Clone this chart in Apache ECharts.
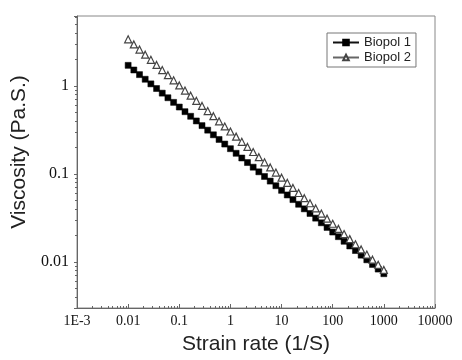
<!DOCTYPE html>
<html>
<head>
<meta charset="utf-8">
<script src="https://cdn.jsdelivr.net/npm/echarts@6/dist/echarts.min.js"></script>
<style>html,body{margin:0;padding:0;background:#fff}#c{width:462px;height:360px}</style>
</head>
<body>
<div id="c"></div>
<script>
const strainRate = [0.01,0.01292,0.01668,0.02154,0.02783,0.03594,0.04642,0.05995,0.07743,
  0.1,0.1292,0.1668,0.2154,0.2783,0.3594,0.4642,0.5995,0.7743,
  1,1.292,1.668,2.154,2.783,3.594,4.642,5.995,7.743,
  10,12.92,16.68,21.54,27.83,35.94,46.42,59.95,77.43,
  100,129.2,166.8,215.4,278.3,359.4,464.2,599.5,774.3,1000];
const biopol1 = [1.718,1.522,1.348,1.194,1.058,0.937,0.830,0.736,0.652,
  0.577,0.511,0.453,0.401,0.355,0.315,0.279,0.247,0.219,
  0.194,0.172,0.152,0.135,0.1195,0.1059,0.0938,0.0831,0.0736,
  0.0652,0.0578,0.0512,0.0453,0.0402,0.0356,0.0315,0.0279,0.0247,
  0.0219,0.0194,0.0172,0.0152,0.0135,0.01196,0.01059,0.00938,0.00831,0.00736];
const biopol2 = [3.396,2.970,2.597,2.271,1.986,1.737,1.519,1.328,1.162,
  1.016,0.888,0.777,0.679,0.594,0.519,0.454,0.397,0.347,
  0.304,0.266,0.232,0.203,0.178,0.1554,0.1359,0.1188,0.1039,
  0.0909,0.0795,0.0695,0.0608,0.0531,0.0465,0.0406,0.0355,0.0311,
  0.0272,0.0238,0.0208,0.0182,0.0159,0.0139,0.01215,0.01063,0.0093,0.00813];
const xTickLabels = ['1E-3','0.01','0.1','1','10','100','1000','10000'];
const yTickLabels = {'-2':'0.01','-1':'0.1','0':'1'};

function pairs(xs, ys){ return xs.map((x,i)=>[x, ys[i]]); }
function decade(v){ const l = Math.log10(v); const r = Math.round(l); return Math.abs(l-r) < 1e-6 ? r : null; }

const chart = echarts.init(document.getElementById('c'), null, {renderer:'canvas'});
const axisCol = '#666';
chart.setOption({
  animation:false,
  backgroundColor:'#fff',
  grid:{left:77,right:27,top:16,bottom:49,show:true,borderColor:'#888',borderWidth:1},
  legend:{
    orient:'vertical', left:327, top:33,
    borderColor:'#777', borderWidth:1, padding:[3,5,3,5], itemGap:2,
    itemWidth:26, itemHeight:7,
    textStyle:{fontFamily:'Liberation Sans', fontSize:13, color:'#222'},
    data:['Biopol 1','Biopol 2']
  },
  xAxis:{
    type:'log', logBase:10, min:0.001, max:10000,
    name:'Strain rate (1/S)', nameLocation:'middle', nameGap:26,
    nameTextStyle:{fontFamily:'Liberation Sans', fontSize:21, color:'#222'},
    axisLine:{lineStyle:{color:axisCol}},
    axisTick:{inside:true, length:4, lineStyle:{color:axisCol}},
    minorTick:{show:true, splitNumber:9, length:2, lineStyle:{color:axisCol}},
    splitLine:{show:false},
    axisLabel:{fontFamily:'Liberation Serif', fontSize:14, color:'#111', margin:6,
      formatter:v=>{const d=decade(v); return d===null?'':xTickLabels[d+3];}}
  },
  yAxis:{
    type:'log', logBase:10, min:0.003, max:6.25,
    name:'Viscosity (Pa.S.)', nameLocation:'middle', nameGap:44,
    nameTextStyle:{fontFamily:'Liberation Sans', fontSize:21, color:'#222', padding:[0,0,0,20]},
    axisLine:{lineStyle:{color:axisCol}},
    axisTick:{length:3, lineStyle:{color:axisCol}},
    minorTick:{show:true, splitNumber:9, length:2, lineStyle:{color:axisCol}},
    splitLine:{show:false},
    axisLabel:{fontFamily:'Liberation Serif', fontSize:16, color:'#111', margin:8,
      showMinLabel:false, showMaxLabel:false,
      formatter:v=>{const d=decade(v); return d===null?'':(yTickLabels[String(d)]||'');}}
  },
  series:[
    {name:'Biopol 1', type:'line', data:pairs(strainRate,biopol1),
     symbol:'rect', symbolSize:6, showAllSymbol:true,
     lineStyle:{color:'#111', width:1}, itemStyle:{color:'#000', borderColor:'#000', borderWidth:0.5}},
    {name:'Biopol 2', type:'line', data:pairs(strainRate,biopol2),
     symbol:'triangle', symbolSize:7, showAllSymbol:true,
     lineStyle:{color:'#666', width:1}, itemStyle:{color:'#fff', borderColor:'#444', borderWidth:1.2}}
  ]
});
</script>
</body>
</html>
